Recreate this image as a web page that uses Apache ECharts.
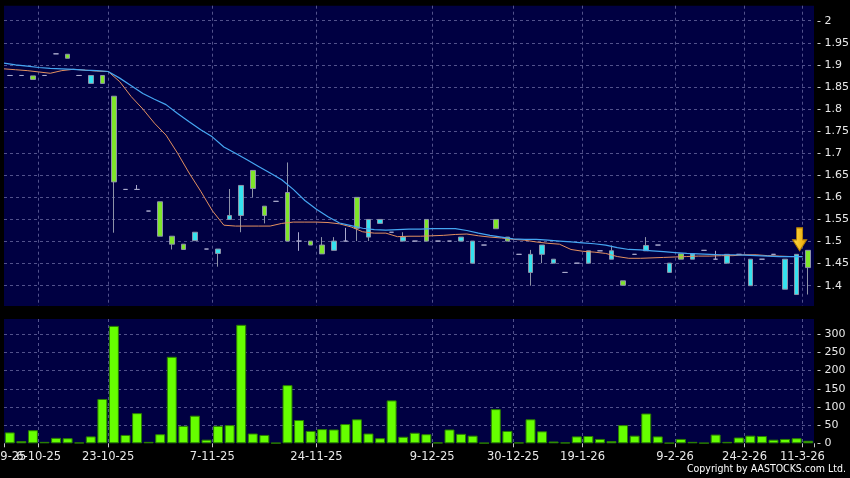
<!DOCTYPE html>
<html><head><meta charset="utf-8">
<script src="https://cdn.jsdelivr.net/npm/echarts@6/dist/echarts.min.js"></script>
<style>html,body{margin:0;padding:0;background:#000;}#c{width:850px;height:478px;}</style>
</head><body><div id="c"></div>
<script>
const dates = ['29-9-25','30-9-25','2-10-25','6-10-25','8-10-25','10-10-25','14-10-25','17-10-25','21-10-25','23-10-25',
'24-10-25','27-10-25','28-10-25','30-10-25','31-10-25','3-11-25','4-11-25','6-11-25','7-11-25','10-11-25',
'11-11-25','12-11-25','13-11-25','17-11-25','18-11-25','19-11-25','21-11-25','24-11-25','25-11-25','26-11-25',
'27-11-25','28-11-25','1-12-25','2-12-25','3-12-25','4-12-25','8-12-25','9-12-25','10-12-25','11-12-25',
'12-12-25','16-12-25','18-12-25','23-12-25','30-12-25','31-12-25','5-1-26','8-1-26','12-1-26','15-1-26',
'19-1-26','21-1-26','23-1-26','26-1-26','28-1-26','30-1-26','3-2-26','5-2-26','9-2-26','11-2-26',
'13-2-26','16-2-26','20-2-26','23-2-26','24-2-26','26-2-26','2-3-26','5-3-26','9-3-26','11-3-26'];
const xLabelDates = ['29-9-25','6-10-25','23-10-25','7-11-25','24-11-25','9-12-25','30-12-25','19-1-26','9-2-26','24-2-26','11-3-26'];

const opens  = [1.876,1.876,1.875,1.876,1.925,1.924,1.876,1.858,1.876,1.829,
1.618,1.618,1.569,1.590,1.512,1.494,1.502,1.483,1.473,1.550,
1.559,1.661,1.580,1.591,1.611,1.501,1.501,1.492,1.480,1.501,
1.600,1.510,1.541,1.521,1.501,1.501,1.550,1.501,1.501,1.501,
1.451,1.492,1.550,1.510,1.471,1.430,1.471,1.451,1.430,1.451,
1.451,1.479,1.460,1.411,1.471,1.479,1.492,1.430,1.472,1.460,
1.480,1.460,1.451,1.471,1.400,1.460,1.471,1.392,1.380,1.480];
const closes = [1.876,1.876,1.867,1.876,1.925,1.915,1.876,1.876,1.858,1.635,
1.618,1.618,1.569,1.512,1.494,1.482,1.521,1.483,1.483,1.559,
1.627,1.620,1.559,1.591,1.501,1.501,1.492,1.472,1.501,1.501,
1.530,1.550,1.550,1.521,1.510,1.501,1.501,1.501,1.501,1.510,
1.501,1.492,1.529,1.501,1.471,1.471,1.492,1.460,1.430,1.451,
1.479,1.479,1.479,1.401,1.471,1.491,1.492,1.451,1.460,1.472,
1.480,1.460,1.471,1.471,1.460,1.460,1.471,1.460,1.471,1.441];
const lows   = [1.876,1.876,1.867,1.876,1.925,1.915,1.876,1.858,1.858,1.520,
1.618,1.618,1.569,1.512,1.482,1.482,1.502,1.483,1.443,1.550,
1.521,1.600,1.541,1.591,1.501,1.479,1.492,1.472,1.480,1.501,
1.501,1.501,1.541,1.521,1.501,1.501,1.501,1.501,1.501,1.501,
1.451,1.492,1.529,1.501,1.471,1.400,1.451,1.451,1.430,1.451,
1.451,1.479,1.460,1.401,1.471,1.479,1.492,1.430,1.460,1.460,
1.480,1.460,1.451,1.471,1.400,1.460,1.471,1.392,1.380,1.380];
const highs  = [1.876,1.876,1.875,1.876,1.925,1.924,1.876,1.876,1.876,1.829,
1.618,1.628,1.569,1.590,1.512,1.494,1.521,1.483,1.483,1.619,
1.627,1.661,1.580,1.591,1.679,1.521,1.501,1.510,1.510,1.531,
1.600,1.550,1.550,1.521,1.521,1.501,1.550,1.501,1.501,1.510,
1.501,1.492,1.550,1.510,1.471,1.481,1.492,1.460,1.430,1.451,
1.479,1.479,1.491,1.411,1.471,1.510,1.492,1.451,1.472,1.472,
1.480,1.479,1.471,1.471,1.460,1.460,1.471,1.460,1.471,1.480];

const volumes = [30,6,36,4,15,14,2,19,122,323,
23,83,4,25,238,48,76,10,48,50,
326,27,23,1,160,64,34,39,38,53,
66,27,14,118,18,29,25,2,38,26,
21,1,94,34,2,66,33,5,2,19,
20,12,6,50,21,82,19,1,12,4,
1,24,4,16,21,20,10,12,14,7];

const maLong = [1.904,1.900,1.897,1.894,1.892,1.891,1.890,1.888,1.887,1.885,
1.870,1.853,1.835,1.822,1.810,1.790,1.771,1.753,1.737,1.714,
1.700,1.685,1.670,1.655,1.640,1.618,1.593,1.573,1.556,1.542,
1.536,1.530,1.527,1.526,1.527,1.528,1.528,1.529,1.529,1.529,
1.525,1.519,1.514,1.510,1.506,1.505,1.505,1.503,1.501,1.499,
1.497,1.495,1.492,1.486,1.482,1.481,1.479,1.477,1.475,1.473,
1.472,1.471,1.470,1.470,1.469,1.468,1.467,1.466,1.466,1.466];
const maShort = [1.891,1.889,1.887,1.884,1.881,1.887,1.890,1.888,1.886,1.885,
1.862,1.828,1.800,1.768,1.741,1.700,1.655,1.614,1.570,1.537,
1.535,1.535,1.535,1.535,1.541,1.544,1.544,1.544,1.543,1.540,
1.533,1.522,1.519,1.519,1.511,1.512,1.512,1.513,1.514,1.516,
1.517,1.513,1.510,1.508,1.505,1.503,1.499,1.496,1.494,1.482,
1.478,1.476,1.473,1.466,1.462,1.462,1.463,1.464,1.465,1.466,
1.467,1.467,1.468,1.468,1.470,1.470,1.468,1.467,1.466,1.466];

const arrowDate = '9-3-26';
const arrowPrice = 1.505;
const copyrightText = 'Copyright by AASTOCKS.com Ltd.';

const gridColor = '#52528c';
const textColor = '#e8e8e8';
const font = 'DejaVu Sans';

const candleData = dates.map((d, i) => [opens[i], closes[i], lows[i], highs[i]]);
const maDates = dates.concat(['']);
const isLabel = (i) => xLabelDates.indexOf(dates[i]) >= 0;
const firstLabelDate = xLabelDates[0];
const isMainLabel = (i) => isLabel(i) && dates[i] !== firstLabelDate;
const isFirstLabel = (i) => dates[i] === firstLabelDate;
const fmt = (step) => (v) => {
  const k = v / step;
  if (Math.abs(k - Math.round(k)) > 1e-6) return '';
  return '- ' + String(parseFloat(v.toFixed(2)));
};
const splitStyle = {color: gridColor, type: [3, 3], width: 1};
const xLabelStyle = {color: textColor, fontSize: 11.5, fontFamily: font, margin: 8, padding: [0, 11.6, 0, 0],
                     hideOverlap: false, showMinLabel: true, showMaxLabel: true};

const chart = echarts.init(document.getElementById('c'), null, {renderer: 'canvas'});
chart.setOption({
  backgroundColor: '#000000',
  animation: false,
  textStyle: {fontFamily: font},
  grid: [
    {left: 4, right: 36, top: 5.7, height: 300.3, show: true, backgroundColor: '#000042', borderWidth: 0,
     containLabel: false, outerBoundsMode: 'none'},
    {left: 4, right: 36, top: 319, height: 124.3, show: true, backgroundColor: '#000042', borderWidth: 0,
     containLabel: false, outerBoundsMode: 'none'}
  ],
  xAxis: [
    {type: 'category', gridIndex: 0, data: dates, boundaryGap: true, position: 'bottom',
     axisLine: {show: false}, axisTick: {show: false}, axisLabel: {show: false},
     splitLine: {show: true, interval: (i) => isLabel(i), showMinLine: false, showMaxLine: false, lineStyle: splitStyle}},
    {type: 'category', gridIndex: 0, data: maDates, boundaryGap: false, show: false},
    {type: 'category', gridIndex: 1, data: dates, boundaryGap: true, position: 'bottom',
     axisLine: {show: false},
     axisTick: {show: true, interval: (i) => isLabel(i), length: 4, lineStyle: {color: '#c8c8c8'}},
     axisLabel: Object.assign({interval: (i) => isMainLabel(i)}, xLabelStyle),
     splitLine: {show: true, interval: (i) => isLabel(i), showMinLine: false, showMaxLine: false, lineStyle: splitStyle}},
    {type: 'category', gridIndex: 1, data: dates, boundaryGap: true, position: 'bottom', offset: 0,
     axisLine: {show: false}, axisTick: {show: false}, splitLine: {show: false},
     axisLabel: Object.assign({interval: (i) => isFirstLabel(i)}, xLabelStyle)}
  ],
  yAxis: [
    {type: 'value', gridIndex: 0, position: 'right', min: 1.354, max: 2.034,
     minInterval: 0.05, maxInterval: 0.05, splitNumber: 14, scale: true,
     axisLine: {show: false}, axisTick: {show: false},
     axisLabel: {formatter: fmt(0.05), color: textColor, fontSize: 11, fontFamily: font, margin: 3},
     splitLine: {show: true, showMinLine: false, showMaxLine: false, lineStyle: splitStyle}},
    {type: 'value', gridIndex: 1, position: 'right', min: 0, max: 342,
     minInterval: 50, maxInterval: 50, splitNumber: 7,
     axisLine: {show: false}, axisTick: {show: false},
     axisLabel: {formatter: fmt(50), color: textColor, fontSize: 11, fontFamily: font, margin: 3},
     splitLine: {show: true, showMinLine: false, showMaxLine: false, lineStyle: splitStyle}}
  ],
  series: [
    {type: 'candlestick', xAxisIndex: 0, yAxisIndex: 0, data: candleData, barWidth: 5,
     itemStyle: {color: '#35e2ef', color0: '#7fe62a', borderColor: '#8e93a8', borderColor0: '#8e93a8',
                 borderColorDoji: '#a9a9cc', borderWidth: 1},
     markPoint: {
       silent: true,
       label: {show: false},
       data: [{coord: [arrowDate, arrowPrice],
               symbol: 'path://M4,0 L10,0 L10,12 L14,12 L7,23 L0,12 L4,12 Z',
               symbolSize: [14, 23], symbolOffset: [3, 0],
               itemStyle: {color: new echarts.graphic.LinearGradient(0, 0, 1, 0, [
                 {offset: 0, color: '#ffe14a'}, {offset: 1, color: '#e8a000'}]),
                 borderColor: '#b88000', borderWidth: 1}}]
     }},
    {type: 'line', xAxisIndex: 1, yAxisIndex: 0, data: maShort, symbol: 'none', silent: true,
     lineStyle: {color: '#e39060', width: 1}},
    {type: 'line', xAxisIndex: 1, yAxisIndex: 0, data: maLong, symbol: 'none', silent: true,
     lineStyle: {color: '#45a6f2', width: 1.2}},
    {type: 'bar', xAxisIndex: 2, yAxisIndex: 1, data: volumes, barCategoryGap: '14%',
     itemStyle: {color: '#66ff00', borderColor: '#2a7f00', borderWidth: 1}}
  ],
  graphic: [
    {type: 'text', right: 4, top: 464,
     style: {text: copyrightText, fill: '#ffffff', font: '10.5px "DejaVu Sans Condensed", "DejaVu Sans"'}}
  ]
});
</script>
</body></html>
